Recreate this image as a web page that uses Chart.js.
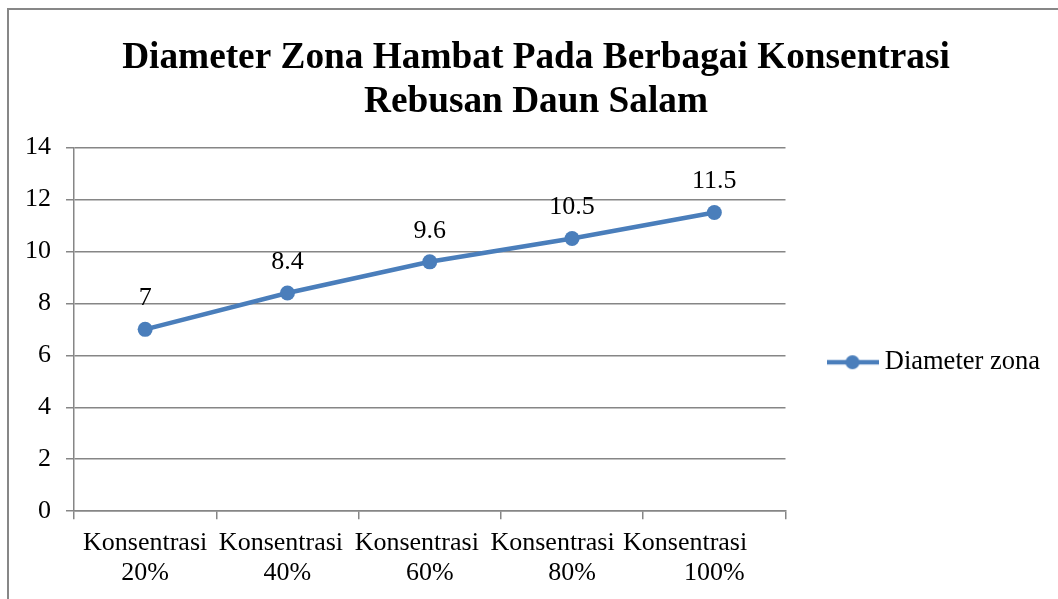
<!DOCTYPE html>
<html><head><meta charset="utf-8">
<script src="https://cdn.jsdelivr.net/npm/chart.js@4.4.1/dist/chart.umd.min.js"></script>
<style>
html,body{margin:0;padding:0;background:#fff;overflow:hidden}
#wrap{position:relative;width:1058px;height:599px}
#frame{position:absolute;left:7px;top:8px;width:1200px;height:800px;border-top:2px solid #878787;border-left:2px solid #878787;pointer-events:none}
canvas{position:absolute;left:0;top:0}
</style></head><body>
<div id="wrap"><canvas id="c" width="1058" height="599"></canvas><div id="frame"></div></div>
<script>
// ---- data ----
const titleLines = ["Diameter Zona Hambat Pada Berbagai Konsentrasi", "Rebusan Daun Salam"];
const categories = ["Konsentrasi 20%", "Konsentrasi 40%", "Konsentrasi 60%", "Konsentrasi 80%", "Konsentrasi 100%"];
const seriesName = "Diameter zona";
const values = [7, 8.4, 9.6, 10.5, 11.5];
const yMin = 0, yMax = 14, yStep = 2;

// ---- style ----
const FONT = '"Liberation Serif", "Times New Roman", serif';
const BLUE = '#4A7EBB';
const GRID = '#868686';
const firstLineTrail = [0, 2, 4, 6, 9]; // mimic Excel's label crowding

Chart.defaults.font.family = FONT;
Chart.defaults.color = '#000';

// legend icon: line with a circle marker
const icon = document.createElement('canvas');
icon.width = 52; icon.height = 16;
(function(){
  const g = icon.getContext('2d');
  g.strokeStyle = BLUE; g.lineWidth = 4.5;
  g.beginPath(); g.moveTo(0, 8); g.lineTo(52, 8); g.stroke();
  g.fillStyle = BLUE; g.beginPath(); g.arc(26, 8, 7, 0, Math.PI * 2); g.fill();
})();

const dataLabels = {
  id: 'dataLabels',
  afterDatasetsDraw(chart) {
    const ctx = chart.ctx;
    const meta = chart.getDatasetMeta(0);
    ctx.save();
    ctx.font = '26px ' + FONT;
    ctx.fillStyle = '#000';
    ctx.textAlign = 'center';
    ctx.textBaseline = 'alphabetic';
    meta.data.forEach((pt, i) => {
      ctx.fillText(String(chart.data.datasets[0].data[i]), pt.x, pt.y - 24);
    });
    ctx.restore();
  }
};

// fine placement of title and legend boxes after layout
const boxTweak = {
  id: 'boxTweak',
  afterLayout(chart) {
    const t = chart.titleBlock;
    if (t) { t.left += 9; t.right += 9; }
    const L = chart.legend;
    if (L) { const h = L.bottom - L.top; L.top = 301; L.bottom = L.top + h; }
  }
};

new Chart(document.getElementById('c'), {
  type: 'line',
  data: {
    labels: categories,
    datasets: [{
      label: seriesName,
      data: values,
      borderColor: BLUE,
      backgroundColor: BLUE,
      borderWidth: 4.5,
      pointRadius: 7.5,
      pointBorderWidth: 0,
      pointBackgroundColor: BLUE,
      tension: 0
    }]
  },
  options: {
    responsive: false,
    animation: false,
    devicePixelRatio: 1,
    layout: { padding: { left: 10, right: 14, top: 0, bottom: 2 } },
    plugins: {
      title: {
        display: true,
        text: titleLines,
        color: '#000',
        font: { family: FONT, size: 37.3, weight: 'bold', lineHeight: 1.16 },
        padding: { top: 37, bottom: 24 }
      },
      legend: {
        position: 'right',
        align: 'start',
        labels: {
          usePointStyle: true,
          pointStyle: icon,
          pointStyleWidth: 38,
          padding: 48,
          color: '#000',
          font: { family: FONT, size: 26.5 }
        }
      },
      tooltip: { enabled: false }
    },
    scales: {
      x: {
        offset: true,
        grid: { drawOnChartArea: false, offset: true, tickLength: 8, color: GRID, lineWidth: 1.5 },
        border: { color: GRID, width: 1.5 },
        ticks: {
          autoSkip: false, maxRotation: 0, minRotation: 0, padding: 9,
          color: '#000',
          font: { family: FONT, size: 26, lineHeight: 1.15 },
          callback: function(value, index) {
            const lbl = this.getLabelForValue(value);
            const k = lbl.indexOf(' ');
            return [lbl.slice(0, k) + ' '.repeat(firstLineTrail[index] || 0), lbl.slice(k + 1)];
          }
        }
      },
      y: {
        min: yMin, max: yMax,
        ticks: { stepSize: yStep, padding: 15, color: '#000', font: { family: FONT, size: 26 } },
        grid: { color: GRID, lineWidth: 1.5, tickLength: 8 },
        border: { color: GRID, width: 1.5 }
      }
    }
  },
  plugins: [dataLabels, boxTweak]
});
</script>
</body></html>
